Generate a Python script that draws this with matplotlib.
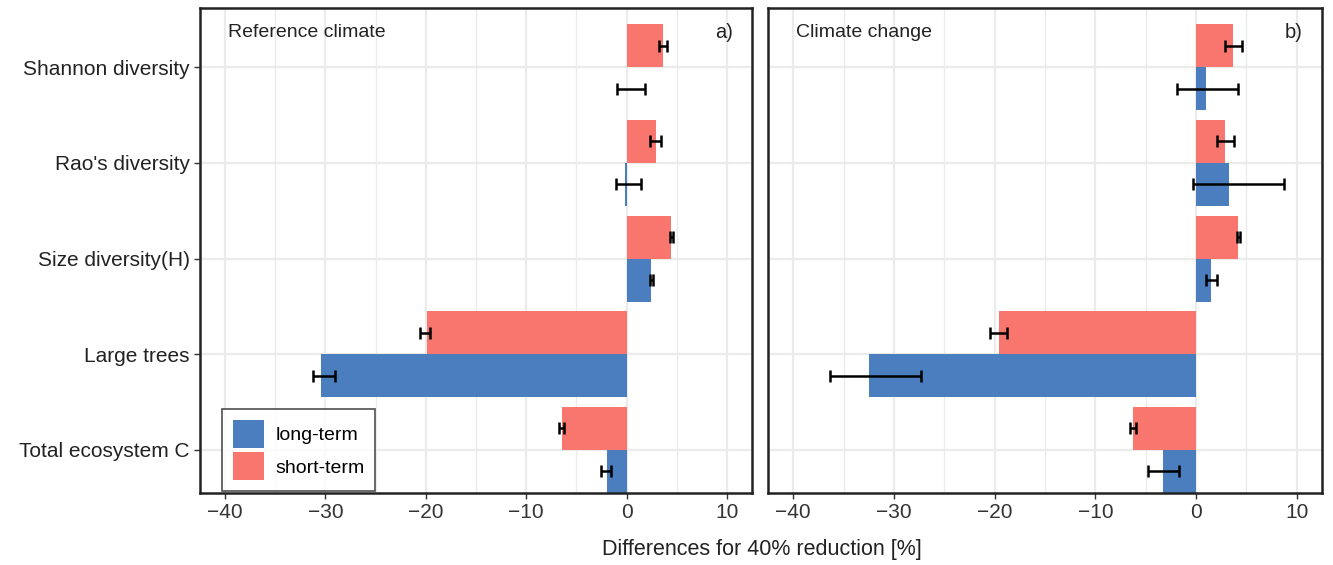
import numpy as np
import matplotlib.pyplot as plt
from matplotlib.ticker import MultipleLocator
from matplotlib.patches import Patch

# categories, top to bottom
categories = ['Shannon diversity', "Rao's diversity", 'Size diversity(H)',
              'Large trees', 'Total ecosystem C']

# panel a) reference climate
ref_short = [3.6, 2.9, 4.4, -19.9, -6.45]
ref_short_lo = [3.2, 2.3, 4.3, -20.6, -6.7]
ref_short_hi = [4.0, 3.4, 4.6, -19.6, -6.2]
ref_long = [0.0, -0.15, 2.45, -30.4, -1.95]
ref_long_lo = [-0.96, -1.06, 2.35, -31.2, -2.55]
ref_long_hi = [1.8, 1.4, 2.6, -29.0, -1.56]

# panel b) climate change
cc_short = [3.67, 2.88, 4.2, -19.6, -6.3]
cc_short_lo = [2.88, 2.1, 4.05, -20.5, -6.6]
cc_short_hi = [4.53, 3.8, 4.4, -18.8, -5.95]
cc_long = [0.99, 3.27, 1.45, -32.5, -3.27]
cc_long_lo = [-1.9, -0.26, 1.0, -36.3, -4.8]
cc_long_hi = [4.2, 8.7, 2.1, -27.3, -1.7]

panels = [
    ('Reference climate', 'a)', ref_short, ref_short_lo, ref_short_hi,
     ref_long, ref_long_lo, ref_long_hi),
    ('Climate change', 'b)', cc_short, cc_short_lo, cc_short_hi,
     cc_long, cc_long_lo, cc_long_hi),
]

RED = '#F8766D'
BLUE = '#4A7EBF'
GRID = '#EBEBEB'

plt.rcParams['font.family'] = ['Liberation Sans', 'DejaVu Sans']

fig = plt.figure(figsize=(13.33, 5.65), dpi=100)
ax_a = fig.add_axes([200/1333, 1 - 493/565, 552/1333, 485/565])
ax_b = fig.add_axes([768/1333, 1 - 493/565, 554/1333, 485/565])

ypos = np.arange(len(categories))[::-1]
h = 0.45

for ax, (title, tag, s, slo, shi, l, llo, lhi) in zip([ax_a, ax_b], panels):
    s, slo, shi = np.array(s), np.array(slo), np.array(shi)
    l, llo, lhi = np.array(l), np.array(llo), np.array(lhi)
    ax.barh(ypos + h/2, s, height=h, color=RED, zorder=2)
    ax.barh(ypos - h/2, l, height=h, color=BLUE, zorder=2)
    ax.errorbar((slo + shi)/2, ypos + h/2, xerr=(shi - slo)/2, fmt='none',
                ecolor='black', elinewidth=1.8, capsize=4, capthick=1.8, zorder=3)
    ax.errorbar((llo + lhi)/2, ypos - h/2, xerr=(lhi - llo)/2, fmt='none',
                ecolor='black', elinewidth=1.8, capsize=4, capthick=1.8, zorder=3)

    ax.set_xlim(-42.5, 12.5)
    ax.set_ylim(-0.45, 4.62)
    ax.xaxis.set_major_locator(MultipleLocator(10))
    ax.xaxis.set_minor_locator(MultipleLocator(5))
    ax.set_yticks(ypos)
    ax.grid(which='major', color=GRID, linewidth=1.6, zorder=0)
    ax.grid(which='minor', axis='x', color=GRID, linewidth=1.0, zorder=0)
    ax.set_axisbelow(True)
    for sp in ax.spines.values():
        sp.set_linewidth(1.8)
        sp.set_color('#222222')
    ax.tick_params(axis='x', which='major', labelsize=15, length=4, width=1,
                   color='#333333', labelcolor='#333333')
    ax.tick_params(axis='x', which='minor', length=0)
    ax.text(0.05, 0.95, title, transform=ax.transAxes, fontsize=14,
            va='center', ha='left', color='#222222')
    ax.text(0.965, 0.95, tag, transform=ax.transAxes, fontsize=14.5,
            va='center', ha='right', color='#222222')

ax_a.set_yticklabels(categories, fontsize=15, color='#222222')
ax_a.tick_params(axis='y', length=4, width=1, color='#333333')
ax_b.set_yticklabels([])
ax_b.tick_params(axis='y', length=0)

handles = [Patch(facecolor=BLUE, label='long-term'),
           Patch(facecolor=RED, label='short-term')]
ax_a.legend(handles=handles, loc='lower left', bbox_to_anchor=(0.036, 0.0),
            borderaxespad=0.1, fontsize=14, frameon=True, fancybox=False,
            edgecolor='#222222', handlelength=1.6, handleheight=1.85,
            labelspacing=0.2, borderpad=0.55,
            handletextpad=0.6).get_frame().set_linewidth(1.2)

fig.text(762/1333, 1 - 549/565, 'Differences for 40% reduction [%]',
         ha='center', va='center', fontsize=15.5, color='#222222')

fig.savefig('out.png', dpi=100)
